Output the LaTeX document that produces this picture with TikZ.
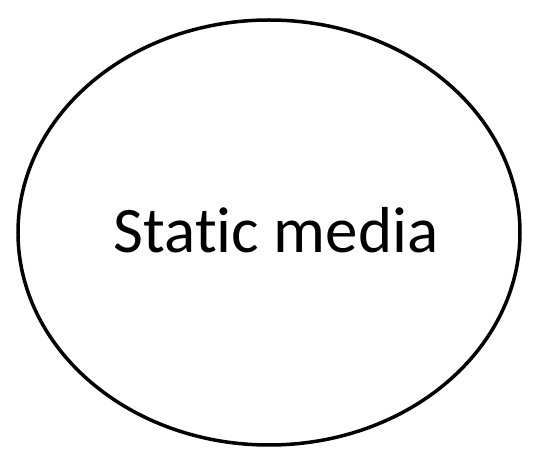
\documentclass[tikz,border=0pt]{standalone}
\usepackage{fontspec}
\setmainfont[Ligatures=NoCommon]{Carlito}
\usetikzlibrary{shapes.geometric}

\begin{document}
\begin{tikzpicture}[x=1pt, y=-1pt,
    mediabox/.style={ellipse, draw=black, line width=3.5pt, inner sep=0pt,
      minimum width=502pt, minimum height=425pt},
    medialabel/.style={inner sep=0pt, font=\fontsize{65}{72}\selectfont}]
    % frame
    \useasboundingbox (0,0) rectangle (539,465);
    % the one ellipse and its text
    \node[mediabox] (static) at (269,232.5) {};
    \node[medialabel] (label) at ([xshift=7pt,yshift=2pt]static.center) {Static media};
\end{tikzpicture}
\end{document}
